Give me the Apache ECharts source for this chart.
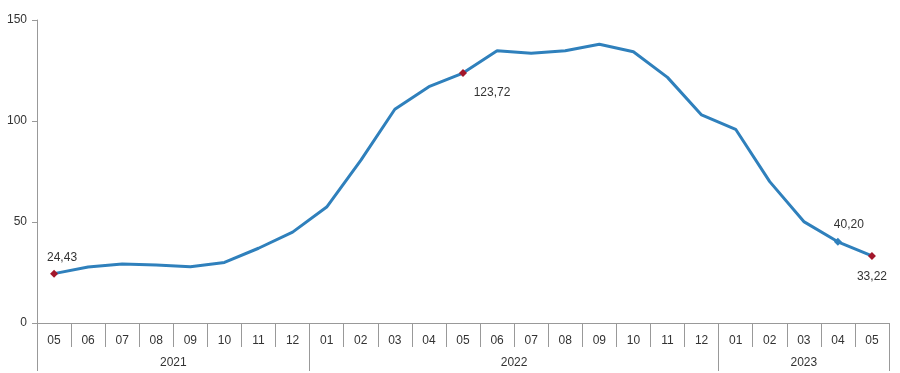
<!DOCTYPE html>
<html><head><meta charset="utf-8">
<script src="https://cdn.jsdelivr.net/npm/echarts@6/dist/echarts.min.js"></script>
<style>html,body{margin:0;padding:0;background:#fff}#c{width:900px;height:373px}</style>
</head><body><div id="c"></div>
<script>
var months = ['05','06','07','08','09','10','11','12','01','02','03','04','05','06','07','08','09','10','11','12','01','02','03','04','05'];
var years = ['2021','2021','2021','2021','2021','2021','2021','2021','2022','2022','2022','2022','2022','2022','2022','2022','2022','2022','2022','2022','2023','2023','2023','2023','2023'];
var values = [24.43,27.7,29.2,28.7,27.9,30.0,37.0,45.0,57.4,80.5,105.8,117.0,123.72,134.8,133.5,134.8,138.0,134.3,121.6,103.0,95.9,70.0,50.2,40.20,33.22];
var yTicks = [0, 50, 100, 150];
var redMarks = [0, 12, 24];
var blueMarks = [23];
var labelPos = {0:{position:'top',offset:[8,-1]},12:{position:'bottom',offset:[29,5]},23:{position:'top',offset:[11,-2]},24:{position:'bottom',offset:[0,6]}};

var textColor = '#333';
var axisColor = '#999';
var fontFam = '"Liberation Sans", Arial, sans-serif';
var bandW = (900 - 37 - 11) / months.length;

// year groups
var groups = [];
years.forEach(function(y, i){
  if (i === 0 || y !== years[i-1]) groups.push({start:i, n:1});
  else groups[groups.length-1].n++;
});
var yearLabelIdx = {};
groups.forEach(function(g){
  var mid = g.start + (g.n - 1) / 2;
  yearLabelIdx[Math.floor(mid)] = (mid % 1 !== 0);
});
var yearData = years.map(function(y, i){
  if (yearLabelIdx[i] === true) return {value: y, textStyle: {padding: [0, 0, 0, bandW]}};
  return y;
});

var data = values.map(function(v, i){
  var item = {value: v};
  var isRed = redMarks.indexOf(i) >= 0, isBlue = blueMarks.indexOf(i) >= 0;
  if (isRed || isBlue) {
    item.symbol = 'diamond';
    item.symbolSize = 8;
    item.itemStyle = {color: isRed ? '#A3172B' : '#2F80BC'};
    var lp = labelPos[i] || {position:'top', offset:[0,0]};
    item.label = {show: true, position: lp.position, offset: lp.offset, color: textColor, fontSize: 12, fontFamily: fontFam,
      formatter: function(p){ return p.value.toFixed(2).replace('.', ','); }};
  }
  return item;
});

var chart = echarts.init(document.getElementById('c'), null, {renderer: 'canvas'});
chart.setOption({
  animation: false,
  backgroundColor: '#fff',
  grid: {left: 37, right: 11, top: 20, bottom: 50, containLabel: false},
  xAxis: [{
    type: 'category', data: months, position: 'bottom', boundaryGap: true,
    axisLine: {show: true, lineStyle: {color: axisColor, width: 1}},
    axisTick: {show: true, interval: 0, length: 24, inside: false, lineStyle: {color: axisColor}},
    axisLabel: {interval: 0, margin: 12, color: textColor, fontSize: 12, fontFamily: fontFam},
    splitLine: {show: false}
  }, {
    type: 'category', data: yearData, position: 'bottom', boundaryGap: true,
    axisLine: {show: false},
    axisTick: {show: true, length: 48, lineStyle: {color: axisColor},
      interval: function(i){ return i === 0 || years[i] !== years[i-1]; }},
    axisLabel: {margin: 34, color: textColor, fontSize: 12, fontFamily: fontFam,
      interval: function(i){ return yearLabelIdx.hasOwnProperty(i); }},
    splitLine: {show: false}
  }],
  yAxis: {
    type: 'value', min: 0, max: 150, interval: 50,
    axisLine: {show: true, lineStyle: {color: axisColor}},
    axisTick: {show: true, length: 5, lineStyle: {color: axisColor}},
    axisLabel: {margin: 10, color: textColor, fontSize: 12, fontFamily: fontFam},
    splitLine: {show: false}
  },
  series: [{
    type: 'line', xAxisIndex: 0, data: data, symbol: 'none', showSymbol: true,
    lineStyle: {color: '#2F80BC', width: 3},
    itemStyle: {color: '#2F80BC'},
    z: 3
  }]
});
</script></body></html>
